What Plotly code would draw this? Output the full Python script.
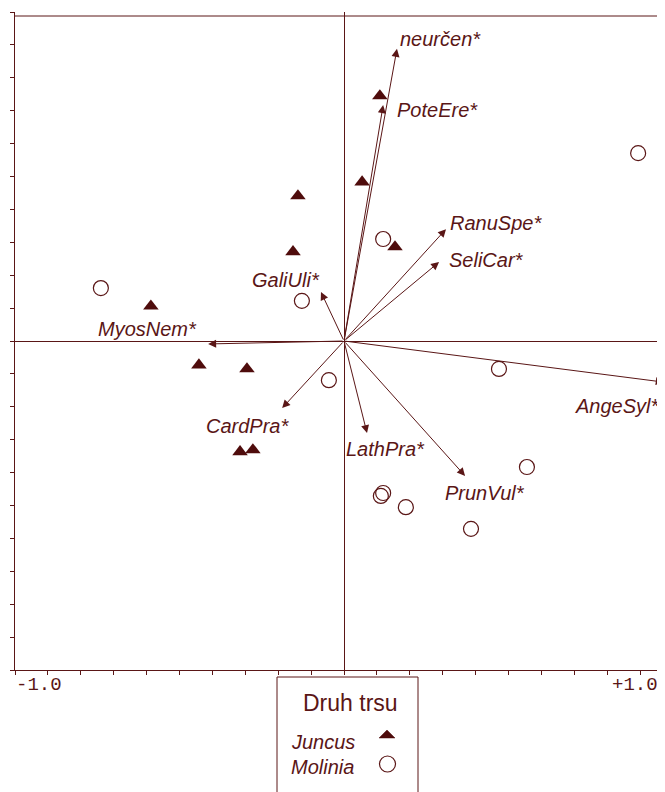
import plotly.graph_objects as go

# The page body has an 8px margin, so the figure is drawn 8px smaller and
# all pixel placements below are given in window coordinates.
OFF = 8
W, H = 665 - OFF, 792 - OFF
COL = "#5a1616"
FILL = "#4f0c0c"

# ---- data -------------------------------------------------------------
species = ["neurčen*", "PoteEre*", "RanuSpe*", "SeliCar*", "GaliUli*",
           "MyosNem*", "CardPra*", "LathPra*", "PrunVul*", "AngeSyl*"]
species_x = [0.161, 0.119, 0.310, 0.289, -0.070, -0.413, -0.188, 0.070, 0.368, 0.972]
species_y = [0.888, 0.717, 0.340, 0.240, 0.149, -0.009, -0.204, -0.280, -0.410, -0.125]

juncus_x = [-0.140, -0.155, -0.587, 0.109, 0.055, 0.155, -0.441, -0.295, -0.316, -0.277]
juncus_y = [0.441, 0.271, 0.106, 0.745, 0.483, 0.286, -0.073, -0.085, -0.337, -0.331]

molinia_x = [0.894, -0.739, -0.128, 0.119, -0.046, 0.471, 0.556, 0.112, 0.119, 0.188, 0.386]
molinia_y = [0.571, 0.161, 0.122, 0.310, -0.119, -0.085, -0.383, -0.471, -0.462, -0.505, -0.571]

tick_vals = [round(-1 + 0.1 * i, 1) for i in range(21)]
end_labels = ["-1.0", "+1.0"]
legend_title = "Druh trsu"
groups = ["Juncus", "Molinia"]

# ---- layout helpers (pixel placement of labels) ------------------------
label_dx = [44, 54, 50, 47, -35, -61, -35, 18, 20, -47]   # px right of tip
label_dy = [-10, 5, -6, -2, -12, -15, 18, 16, 17, 24]      # px below tip


def px(x):
    return (x - OFF) / W


def py(y):
    return 1 - (y - OFF) / H


fig = go.Figure()

fig.add_trace(go.Scatter(
    x=juncus_x, y=juncus_y, mode="markers", name=groups[0],
    marker=dict(symbol="triangle-up", size=13.5, color=FILL,
                line=dict(width=0)),
    cliponaxis=False, showlegend=False, hoverinfo="skip"))

fig.add_trace(go.Scatter(
    x=molinia_x, y=molinia_y, mode="markers", name=groups[1],
    marker=dict(symbol="circle-open", size=15, color=COL,
                line=dict(width=1.2, color=COL)),
    cliponaxis=False, showlegend=False, hoverinfo="skip"))

annotations = []
for name, sx, sy, dx, dy in zip(species, species_x, species_y, label_dx, label_dy):
    annotations.append(dict(
        x=sx, y=sy, ax=0, ay=0, xref="x", yref="y", axref="x", ayref="y",
        text="", showarrow=True, arrowhead=2, arrowsize=1.6, arrowwidth=1,
        arrowcolor=COL, standoff=0, startstandoff=0))
    annotations.append(dict(
        x=sx, y=sy, xref="x", yref="y", text="<i>%s</i>" % name,
        showarrow=False, xanchor="center", yanchor="middle",
        xshift=dx, yshift=-dy,
        font=dict(family="Liberation Sans, Arial", size=20, color=COL)))

mono = dict(family="Liberation Mono, Courier New", size=19, color=COL)
annotations.append(dict(x=px(39), y=py(685), xref="paper", yref="paper",
                        xanchor="center", yanchor="middle",
                        text=end_labels[0], showarrow=False, font=mono))
annotations.append(dict(x=px(634.5), y=py(685), xref="paper", yref="paper",
                        xanchor="center", yanchor="middle",
                        text=end_labels[1], showarrow=False, font=mono))

# legend texts
annotations.append(dict(x=px(350.5), y=py(703), xref="paper", yref="paper",
                        xanchor="center", yanchor="middle",
                        text=legend_title, showarrow=False,
                        font=dict(family="Liberation Sans, Arial", size=23, color=COL)))
annotations.append(dict(x=px(289), y=py(742), xref="paper", yref="paper",
                        xanchor="left", yanchor="middle",
                        text="<i>%s</i>" % groups[0], showarrow=False,
                        font=dict(family="Liberation Sans, Arial", size=20, color=COL)))
annotations.append(dict(x=px(289), y=py(767), xref="paper", yref="paper",
                        xanchor="left", yanchor="middle",
                        text="<i>%s</i>" % groups[1], showarrow=False,
                        font=dict(family="Liberation Sans, Arial", size=20, color=COL)))

shapes = [
    # top frame line
    dict(type="line", xref="paper", yref="paper", x0=px(15), x1=1,
         y0=py(16), y1=py(16), line=dict(color=COL, width=1)),
    # legend box
    dict(type="rect", xref="paper", yref="paper", x0=px(277), x1=px(418),
         y0=-0.02, y1=py(677), line=dict(color=COL, width=1)),
    # legend triangle
    dict(type="path", xref="paper", yref="paper",
         path="M %f,%f L %f,%f L %f,%f Z" % (px(379), py(738), px(395), py(738), px(387), py(730)),
         fillcolor=FILL, line=dict(color=FILL, width=0.5)),
    # legend circle
    dict(type="circle", xref="paper", yref="paper",
         x0=px(379.5), x1=px(395.5), y0=py(772), y1=py(756),
         line=dict(color=COL, width=1.2)),
]

axis_common = dict(showgrid=False, showline=True, linecolor=COL, linewidth=1,
                   ticks="outside", ticklen=4, tickcolor=COL, tickwidth=1,
                   tickvals=tick_vals, showticklabels=False,
                   zeroline=True, zerolinecolor=COL, zerolinewidth=1,
                   fixedrange=True)

fig.update_layout(
    width=W, height=H,
    margin=dict(l=0, r=0, t=0, b=0),
    paper_bgcolor="white", plot_bgcolor="white",
    xaxis=dict(domain=[px(15), 1], range=[-1, 321 / 329], **axis_common),
    yaxis=dict(domain=[py(670), py(12)], range=[-1, 1], **axis_common),
    annotations=annotations, shapes=shapes,
    showlegend=False,
)

fig.write_html("out.html")
